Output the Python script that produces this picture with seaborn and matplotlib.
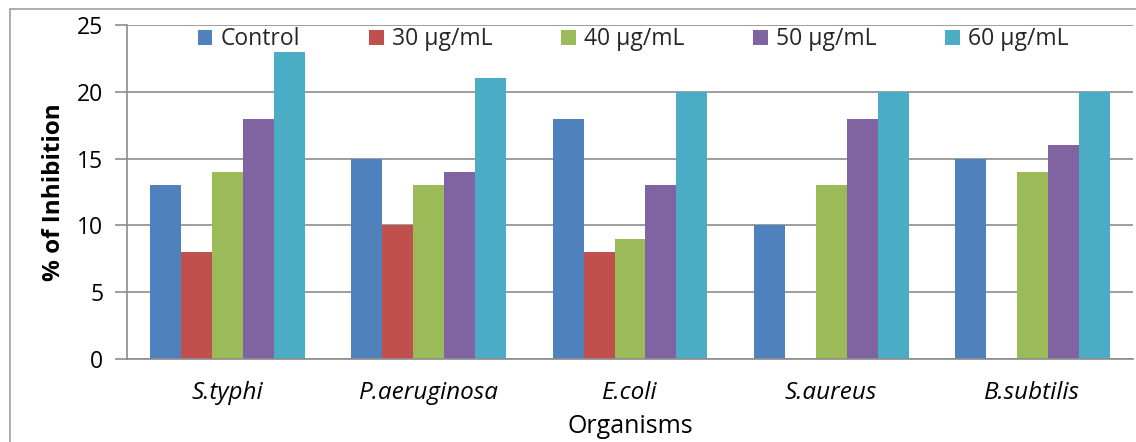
import matplotlib
matplotlib.use("Agg")
import matplotlib.pyplot as plt
import matplotlib.patches as mpatches
import seaborn as sns
import pandas as pd

# Zone of inhibition per organism and extract concentration
organisms = ["S.typhi", "P.aeruginosa", "E.coli", "S.aureus", "B.subtilis"]
treatments = ["Control", "30 µg/mL", "40 µg/mL", "50 µg/mL", "60 µg/mL"]
control = [13, 15, 18, 10, 15]
conc_30 = [8, 10, 8, 0, 0]
conc_40 = [14, 13, 9, 13, 14]
conc_50 = [18, 14, 13, 18, 16]
conc_60 = [23, 21, 20, 20, 20]
y_ticks = [0, 5, 10, 15, 20, 25]

colors = ["#4F81BD", "#C0504D", "#9BBB59", "#8064A2", "#4BACC6"]

rows = []
for name, vals in zip(treatments, [control, conc_30, conc_40, conc_50, conc_60]):
    for org, v in zip(organisms, vals):
        rows.append({"Organism": org, "Treatment": name, "Inhibition": v})
df = pd.DataFrame(rows)

sns.set_theme(style="white")
plt.rcParams["font.family"] = ["Open Sans", "DejaVu Sans"]

fig = plt.figure(figsize=(11.36, 4.42), dpi=100)
ax = fig.add_axes([127 / 1136, 1 - 359 / 442, 1006 / 1136, 334 / 442])

sns.barplot(data=df, x="Organism", y="Inhibition", hue="Treatment",
            order=organisms, hue_order=treatments, palette=colors,
            width=0.77, saturation=1, linewidth=0, ax=ax, legend=True)

grid_c = "#8C8C8C"
fs = 16.5
ax.set_ylim(0, 25)
ax.set_xlim(-0.5, 4.5)
ax.set_yticks(y_ticks)
ax.yaxis.grid(True, color=grid_c, linewidth=1.2)
ax.set_axisbelow(True)
for s in ["top", "right"]:
    ax.spines[s].set_visible(False)
for s in ["left", "bottom"]:
    ax.spines[s].set_color(grid_c)
    ax.spines[s].set_linewidth(1.2)
ax.tick_params(axis="y", which="major", left=True, length=9, width=1.2,
               color=grid_c, labelsize=fs, pad=8, labelcolor="black")
ax.tick_params(axis="x", bottom=False, labelsize=17.5, pad=10, labelcolor="black")
for lbl in ax.get_xticklabels():
    lbl.set_fontstyle("italic")

ax.set_xlabel("Organisms", fontsize=18, labelpad=6, color="black")
ax.set_ylabel("% of Inhibition", fontsize=17.5, fontweight="bold", labelpad=8, color="black")

handles, labels = ax.get_legend_handles_labels()
leg = ax.legend(handles, labels, loc="upper left", bbox_to_anchor=(0.061, 1.02),
                ncol=5, frameon=False, fontsize=fs, handlelength=0.65,
                handleheight=0.65, handletextpad=0.35, columnspacing=3.0,
                borderaxespad=0)

# Outer chart-area border
fig.patches.append(mpatches.Rectangle((10 / 1136, -0.1), 1.2, 1.1 - 9 / 442,
                                      transform=fig.transFigure, fill=False,
                                      edgecolor="#A0A0A0", linewidth=1.2))

fig.savefig("out.png", dpi=100)
